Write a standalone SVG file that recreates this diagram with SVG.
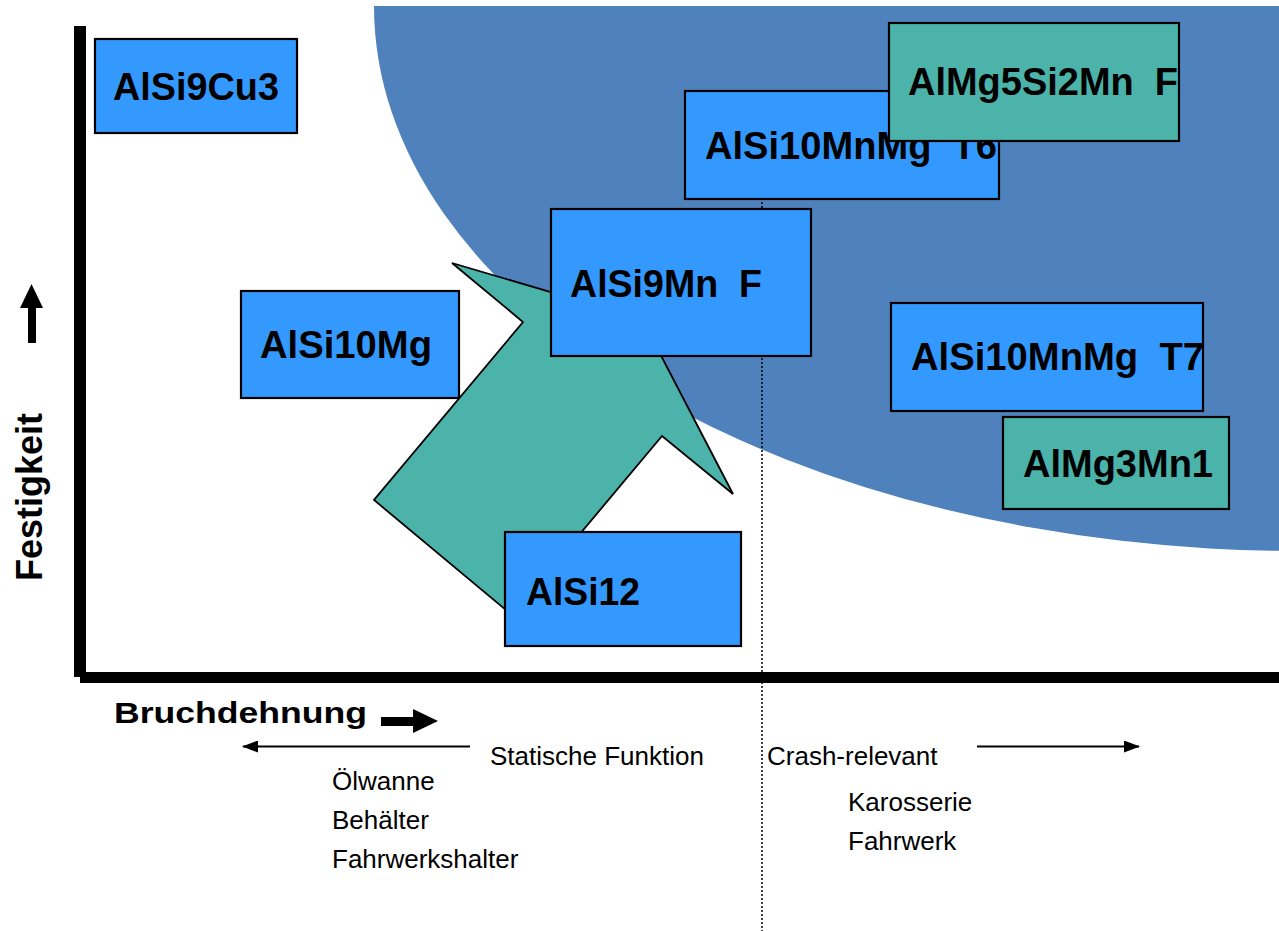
<svg xmlns="http://www.w3.org/2000/svg" width="1279" height="931" viewBox="0 0 1279 931">
  <defs>
    <style>
      .box { fill: #3399ff; stroke: #000; stroke-width: 2.2; }
      .box-teal { fill: #4bb3aa; stroke: #000; stroke-width: 2.2; }
      .lbl { font-family: "Liberation Sans", Arial, sans-serif; font-weight: bold; font-size: 39.5px; fill: #000; }
      .small { font-family: "Liberation Sans", Arial, sans-serif; font-size: 26px; fill: #000; }
      .axis-title { font-family: "Liberation Sans", Arial, sans-serif; font-weight: bold; fill: #000; }
      .thin { stroke: #000; stroke-width: 2; fill: none; }
    </style>
    <marker id="headBig" viewBox="0 0 16 12" refX="15" refY="6" markerWidth="16" markerHeight="12" markerUnits="userSpaceOnUse" orient="auto">
      <path d="M0,0 L16,6 L0,12 Z" fill="#000"/>
    </marker>
  </defs>

  <rect width="1279" height="931" fill="#fff"/>

  <!-- high-strength / high-elongation zone -->
  <path id="zone" d="M374,6 A926,545 0 0 0 1300,551 L1300,6 Z" fill="#4f81bd"/>

  <!-- boundary between static and crash-relevant use -->
  <line id="divider" x1="762" y1="150" x2="762" y2="931" stroke="#000" stroke-width="1.5" stroke-dasharray="2,2"/>

  <!-- development direction arrow -->
  <g id="trend-arrow">
    <polygon points="452,263 642,319 733,494 662,436 512,615 374,500 523,322" fill="#4bb3aa" stroke="#000" stroke-width="1.8" stroke-linejoin="miter"/>
  </g>

  <g id="n-alsi9cu3">
    <rect class="box" x="95" y="39" width="202" height="94"/>
    <text class="lbl" x="113" y="100" textLength="166" lengthAdjust="spacingAndGlyphs">AlSi9Cu3</text>
  </g>

  <g id="n-alsi10mg">
    <rect class="box" x="241" y="291" width="218" height="107"/>
    <text class="lbl" x="260" y="358" textLength="172" lengthAdjust="spacingAndGlyphs">AlSi10Mg</text>
  </g>

  <g id="n-alsi10mnmg-t6">
    <rect class="box" x="685" y="91" width="314" height="108"/>
    <text class="lbl" x="705" y="159" xml:space="preserve" textLength="292" lengthAdjust="spacingAndGlyphs">AlSi10MnMg  T6</text>
  </g>

  <g id="n-almg5si2mn-f">
    <rect class="box-teal" x="889" y="23" width="290" height="118"/>
    <text class="lbl" x="908" y="95" xml:space="preserve" textLength="270" lengthAdjust="spacingAndGlyphs">AlMg5Si2Mn  F</text>
  </g>

  <g id="n-alsi9mn-f">
    <rect class="box" x="551" y="209" width="260" height="147"/>
    <text class="lbl" x="570" y="297" xml:space="preserve" textLength="192" lengthAdjust="spacingAndGlyphs">AlSi9Mn  F</text>
  </g>

  <g id="n-alsi10mnmg-t7">
    <rect class="box" x="891" y="303" width="312" height="108"/>
    <text class="lbl" x="911" y="370" xml:space="preserve" textLength="293" lengthAdjust="spacingAndGlyphs">AlSi10MnMg  T7</text>
  </g>

  <g id="n-almg3mn1">
    <rect class="box-teal" x="1003" y="417" width="226" height="92"/>
    <text class="lbl" x="1023" y="477" textLength="190" lengthAdjust="spacingAndGlyphs">AlMg3Mn1</text>
  </g>

  <g id="n-alsi12">
    <rect class="box" x="505" y="532" width="236" height="114"/>
    <text class="lbl" x="526" y="605" textLength="114" lengthAdjust="spacingAndGlyphs">AlSi12</text>
  </g>

  <!-- axes -->
  <g id="axes" fill="#000">
    <rect x="74" y="26" width="12" height="651"/>
    <rect x="80" y="672" width="1199" height="11"/>
    <!-- strength arrow -->
    <polygon points="20,308 31.5,284 43,308 36,308 36,343 28,343 28,308"/>
    <!-- elongation arrow -->
    <polygon points="381,717 413,717 413,709 438,721 413,733 413,726 381,726"/>
  </g>

  <text class="axis-title" font-size="36" transform="translate(42,581) rotate(-90)">Festigkeit</text>
  <text class="axis-title" font-size="30" x="114" y="723" textLength="253" lengthAdjust="spacingAndGlyphs">Bruchdehnung</text>

  <!-- application ranges -->
  <g id="connectors">
    <line class="thin" x1="470" y1="746.5" x2="243" y2="746.5" marker-end="url(#headBig)"/>
    <line class="thin" x1="977" y1="746.5" x2="1139" y2="746.5" marker-end="url(#headBig)"/>
  </g>

  <g id="static-uses">
    <text class="small" x="490" y="765">Statische Funktion</text>
    <text class="small" x="332" y="790">Ölwanne</text>
    <text class="small" x="332" y="829">Behälter</text>
    <text class="small" x="332" y="868">Fahrwerkshalter</text>
  </g>

  <g id="crash-uses">
    <text class="small" x="767" y="765">Crash-relevant</text>
    <text class="small" x="848" y="811">Karosserie</text>
    <text class="small" x="848" y="850">Fahrwerk</text>
  </g>
</svg>
